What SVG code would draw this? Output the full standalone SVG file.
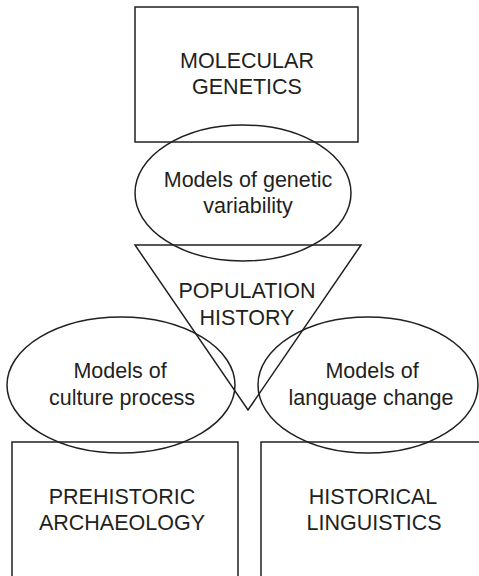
<svg xmlns="http://www.w3.org/2000/svg" width="479" height="576" viewBox="0 0 479 576">
<style>
.s{fill:none;stroke:#231f20;stroke-width:1.5}
.t{font-family:"Liberation Sans",Arial,sans-serif;font-size:21.5px;fill:#231f20;text-anchor:middle}
</style>
<rect width="479" height="576" fill="#fff"/>
<g id="molecular-genetics"><rect class="s" x="135" y="7" width="223" height="135"/><text class="t" x="247" y="68">MOLECULAR</text><text class="t" x="247" y="94">GENETICS</text></g>
<g id="genetic-variability"><ellipse class="s" cx="243" cy="193" rx="108" ry="68"/><text class="t" x="248" y="187">Models of genetic</text><text class="t" x="248" y="213">variability</text></g>
<g id="population-history"><polygon class="s" points="135,245 361,245 248,410"/><text class="t" x="247" y="298">POPULATION</text><text class="t" x="247" y="325">HISTORY</text></g>
<g id="culture-process"><ellipse class="s" cx="121" cy="385" rx="114" ry="68"/><text class="t" x="120" y="378">Models of</text><text class="t" x="122" y="405">culture process</text></g>
<g id="language-change"><ellipse class="s" cx="368" cy="385" rx="110" ry="68"/><text class="t" x="372" y="378">Models of</text><text class="t" x="371" y="405">language change</text></g>
<g id="prehistoric-archaeology"><polyline class="s" points="12,580 12,442 238,442 238,580"/><text class="t" x="122" y="504">PREHISTORIC</text><text class="t" x="122" y="530">ARCHAEOLOGY</text></g>
<g id="historical-linguistics"><polyline class="s" points="261,580 261,442 482,442"/><text class="t" x="373" y="504">HISTORICAL</text><text class="t" x="374" y="530">LINGUISTICS</text></g>
<g id="connectors"></g>
</svg>
